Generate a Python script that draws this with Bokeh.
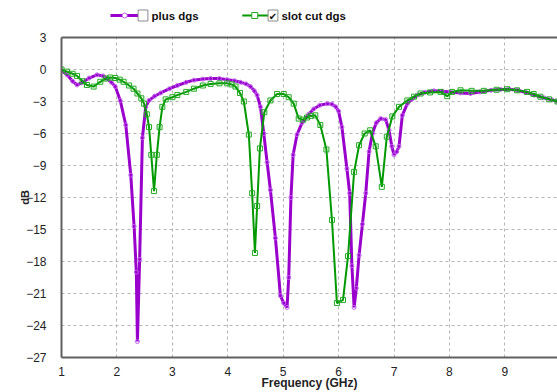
from bokeh.plotting import figure
from bokeh.layouts import column
from bokeh.models import FixedTicker, Range1d, LinearAxis
from bokeh.core.properties import value
from bokeh.embed import file_html
from bokeh.resources import INLINE

# ---- data ----
plus_f = [1.00, 1.10, 1.20, 1.28, 1.38, 1.50, 1.64, 1.75, 1.82, 1.90, 1.97, 2.06, 2.16, 2.25,
          2.31, 2.35, 2.37, 2.41, 2.46, 2.52, 2.58, 2.68, 2.79, 2.95, 3.09, 3.25, 3.39, 3.55,
          3.69, 3.85, 3.99, 4.12, 4.23, 4.33, 4.41, 4.48, 4.53, 4.59, 4.65, 4.71, 4.77, 4.86,
          4.95, 5.01, 5.07, 5.10, 5.14, 5.18, 5.25, 5.34, 5.46, 5.55, 5.66, 5.80, 5.88, 5.95,
          6.00, 6.06, 6.15, 6.20, 6.24, 6.28, 6.32, 6.37, 6.43, 6.49, 6.55, 6.61, 6.68, 6.76,
          6.85, 6.91, 6.96, 7.00, 7.05, 7.09, 7.15, 7.24, 7.32, 7.42, 7.55, 7.72, 7.87, 8.02,
          8.20, 8.38, 8.55, 8.75, 8.92, 9.08, 9.23, 9.38, 9.53, 9.70, 9.85, 9.95]
plus_db = [-0.1, -0.5, -1.1, -1.45, -1.2, -0.8, -0.5, -0.6, -0.85, -1.2, -1.6, -2.9, -5.2, -9.9,
           -14.7, -19.0, -25.5, -17.8, -6.4, -3.5, -2.9, -2.5, -2.2, -1.8, -1.5, -1.2, -1.0, -0.9,
           -0.85, -0.85, -0.95, -1.05, -1.2, -1.35, -1.6, -2.0, -2.4, -3.5, -6.0, -8.7, -11.3, -15.8,
           -21.2, -21.9, -22.3, -19.5, -12.0, -8.0, -6.1, -5.0, -4.2, -3.7, -3.35, -3.2, -3.25, -3.5,
           -3.9, -5.4, -9.3, -11.6, -18.4, -22.3, -20.5, -17.4, -14.5, -11.6, -7.7, -6.0, -5.0, -4.6,
           -4.7, -5.7, -7.2, -8.0, -7.7, -7.2, -4.3, -3.2, -2.8, -2.4, -2.15, -2.0, -2.05, -2.1,
           -2.2, -2.25, -2.1, -1.95, -1.87, -1.85, -1.95, -2.15, -2.4, -2.65, -2.85, -3.0]

slot_f = [1.00, 1.10, 1.20, 1.28, 1.38, 1.46, 1.58, 1.70, 1.80, 1.88, 1.97, 2.05, 2.12, 2.22,
          2.30, 2.37, 2.44, 2.49, 2.54, 2.58, 2.62, 2.67, 2.72, 2.77, 2.82, 2.88, 3.00, 3.09,
          3.25, 3.39, 3.55, 3.69, 3.85, 3.99, 4.07, 4.14, 4.22, 4.29, 4.38, 4.44, 4.49, 4.53,
          4.58, 4.66, 4.77, 4.89, 5.01, 5.10, 5.19, 5.28, 5.36, 5.43, 5.50, 5.58, 5.67, 5.78,
          5.88, 5.97, 6.08, 6.17, 6.28, 6.37, 6.47, 6.57, 6.67, 6.78, 6.87, 6.97, 7.09, 7.24,
          7.36, 7.48, 7.65, 7.84, 7.96, 8.05, 8.20, 8.40, 8.62, 8.85, 9.04, 9.22, 9.40, 9.52,
          9.64, 9.80, 9.95]
slot_db = [0.0, -0.2, -0.4, -0.6, -1.1, -1.45, -1.6, -1.15, -0.85, -0.75, -0.8, -0.95, -1.15, -1.5,
           -1.8, -2.25, -2.7, -3.2, -4.2, -5.4, -8.0, -11.4, -8.0, -5.4, -3.5, -2.8, -2.6, -2.4,
           -2.1, -1.8, -1.5, -1.35, -1.3, -1.3, -1.4, -1.6, -2.2, -3.0, -6.1, -11.6, -17.2, -12.8,
           -7.4, -4.0, -2.9, -2.3, -2.3, -2.6, -3.2, -4.6, -4.7, -4.5, -4.35, -4.3, -5.2, -7.5,
           -14.1, -21.9, -21.6, -17.5, -9.6, -7.1, -6.0, -5.7, -7.2, -11.0, -6.3, -4.4, -3.5, -2.9,
           -2.55, -2.25, -2.15, -2.1, -2.5, -2.1, -1.95, -2.0, -2.0, -1.9, -1.85, -1.95, -2.1, -2.3,
           -2.55, -2.8, -3.0]

x_ticks = [1, 2, 3, 4, 5, 6, 7, 8, 9, 10]
y_ticks = [-27, -24, -21, -18, -15, -12, -9, -6, -3, 0, 3]
series_names = ["plus dgs", "slot cut dgs"]
x_title = "Frequency (GHz)"
y_title = "dB"

PURPLE = "#9900cc"
PURPLE_M = "#c060f0"
GREEN = "#009900"
GREEN_M = "#22aa22"
FRAME = "#606060"
FONT = "Liberation Sans"

W = 557
LEG_H = 29
MAIN_H = 392 - LEG_H

# ---------------- legend strip (pixel coordinates, y downward) ----------------
leg = figure(width=W, height=LEG_H, x_range=Range1d(0, W), y_range=Range1d(LEG_H, 0),
             output_backend="svg", toolbar_location=None, x_axis_type=None, y_axis_type=None,
             min_border=0)
leg.outline_line_color = None
leg.grid.visible = False
LY = 15
# plus dgs entry
leg.line([55, 87], [LY, LY], line_color=PURPLE, line_width=3)
leg.scatter([71], [LY], marker="circle", size=5, line_color=PURPLE_M, fill_color="white")
leg.rect([91.5], [LY], width=11, height=11, fill_color="white", line_color="#8a8a8a")
leg.text([101], [LY], text=[series_names[0]], text_font=value(FONT), text_font_size="11.5px",
         text_font_style="bold", text_color="#111111", text_baseline="middle")
# slot cut dgs entry
leg.line([203, 232], [LY, LY], line_color=GREEN, line_width=2)
leg.scatter([217], [LY], marker="square", size=6, line_color=GREEN_M, fill_color="white")
leg.rect([237.5], [LY], width=11, height=11, fill_color="white", line_color="#8a8a8a")
leg.text([237.5], [LY + 0.5], text=["\u2714"], text_font=value("DejaVu Sans"),
         text_font_size="10px", text_color="#111111", text_baseline="middle", text_align="center")
leg.text([247], [LY], text=[series_names[1]], text_font=value(FONT), text_font_size="11.5px",
         text_font_style="bold", text_color="#111111", text_baseline="middle")

# ---------------- main chart ----------------
p = figure(width=W, height=MAIN_H, x_range=Range1d(1, 9.95), y_range=Range1d(-27, 3),
           output_backend="svg", toolbar_location=None,
           min_border_left=61, min_border_top=8, min_border_bottom=30, min_border_right=0)

p.background_fill_color = "white"
p.outline_line_color = None

xa = p.below[0]
ya = p.left[0]
for ax in (xa, ya):
    ax.major_tick_line_color = None
    ax.minor_tick_line_color = None
    ax.axis_line_color = FRAME
    ax.axis_line_width = 2
    ax.major_label_text_font = FONT
    ax.major_label_text_font_size = "12px"
    ax.major_label_text_color = "#222222"
    ax.axis_label_text_font = FONT
    ax.axis_label_text_font_style = "bold"
    ax.axis_label_text_color = "#222222"

xa.ticker = FixedTicker(ticks=x_ticks)
ya.ticker = FixedTicker(ticks=y_ticks)
xa.axis_label = x_title
ya.axis_label = y_title
xa.axis_label_text_font_size = "12px"
ya.axis_label_text_font_size = "11px"
xa.major_label_standoff = 3
xa.axis_label_standoff = -3
ya.major_label_standoff = 9
ya.axis_label_standoff = -8

# top frame edge as a bare axis line
top = LinearAxis(ticker=FixedTicker(ticks=[]), axis_line_color=FRAME, axis_line_width=2,
                 major_tick_line_color=None, minor_tick_line_color=None,
                 major_label_text_font_size="0px")
p.add_layout(top, "above")

p.xgrid.grid_line_color = "#b4b4b4"
p.ygrid.grid_line_color = "#b4b4b4"
p.xgrid.grid_line_dash = "3 3"
p.ygrid.grid_line_dash = "3 3"

p.line(plus_f, plus_db, line_color=PURPLE, line_width=3)
p.scatter(plus_f, plus_db, marker="circle", size=4, line_color=PURPLE_M, fill_alpha=0.0,
          line_width=1)
p.line(slot_f, slot_db, line_color=GREEN, line_width=2)
p.scatter(slot_f, slot_db, marker="square", size=5, line_color=GREEN_M, fill_alpha=0.0,
          line_width=1)

open("out.html", "w").write(file_html(column(leg, p, spacing=0), INLINE))
